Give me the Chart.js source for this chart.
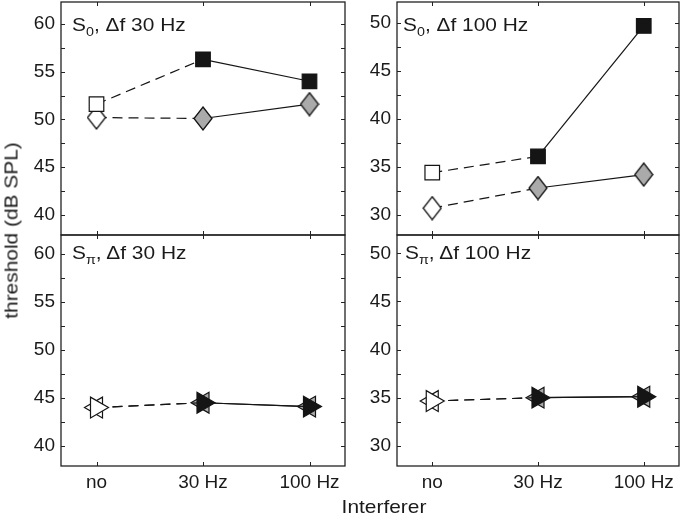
<!DOCTYPE html>
<html>
<head>
<meta charset="utf-8">
<script src="https://cdn.jsdelivr.net/npm/chart.js@4"></script>
<style>
  body { margin: 0; width: 685px; height: 519px; background: #fff; position: relative; overflow: hidden;
         font-family: "Liberation Sans", Arial, sans-serif; color: #1a1a1a; }
  canvas { position: absolute; }
  .lbl { position: absolute; font-size: 19px; line-height: 19px; white-space: nowrap;
         transform: scaleX(1.1); transform-origin: left center; }
  .lbl sub { font-size: 13px; vertical-align: -5px; line-height: 0; }
  #ytitle { left: -109px; top: 221px; width: 240px; text-align: center;
            transform: rotate(-90deg) scaleX(1.1); transform-origin: center; }
  #xtitle { left: 284px; top: 497px; width: 200px; text-align: center; transform-origin: center; }
</style>
</head>
<body>
<canvas id="tl" width="330" height="240" style="left:20px;top:0px;width:330px;height:240px"></canvas>
<canvas id="tr" width="325" height="240" style="left:360px;top:0px;width:325px;height:240px"></canvas>
<canvas id="bl" width="330" height="289" style="left:20px;top:230px;width:330px;height:289px"></canvas>
<canvas id="br" width="325" height="289" style="left:360px;top:230px;width:325px;height:289px"></canvas>

<div class="lbl" style="left:72px;top:15px">S<sub>0</sub>, Δf 30 Hz</div>
<div class="lbl" style="left:403px;top:15px">S<sub>0</sub>, Δf 100 Hz</div>
<div class="lbl" style="left:72px;top:243px">S<sub>π</sub>, Δf 30 Hz</div>
<div class="lbl" style="left:405px;top:243px">S<sub>π</sub>, Δf 100 Hz</div>
<div class="lbl" id="ytitle">threshold (dB SPL)</div>
<div class="lbl" id="xtitle">Interferer</div>

<script>
// 데이터
const interferers = ["no", "30 Hz", "100 Hz"];

// S0, Δf 30 Hz
const s0f30Square = [51.6, 56.3, 54.0];
const s0f30Diamond = [50.2, 50.1, 51.6];
// S0, Δf 100 Hz
const s0f100Square = [34.4, 36.1, 49.7];
const s0f100Diamond = [30.7, 32.8, 34.2];
// Spi, Δf 30 Hz
const spif30Right = [44.0, 44.5, 44.1];
const spif30Left = [44.0, 44.5, 44.1];
// Spi, Δf 100 Hz
const spif100Right = [34.65, 35.0, 35.1];
const spif100Left = [34.65, 35.0, 35.1];

const yTicks30 = [40, 45, 50, 55, 60];
const yTicks100 = [30, 35, 40, 45, 50];

const INK = "#151515";
const GRAY = "#aaaaaa";
const FONT = { family: "'Liberation Sans', Arial, sans-serif", size: 19 };

// 다이아몬드 마커 (세로로 긴 모양)
const diamond = (fill) => {
  const c = document.createElement("canvas");
  c.width = 20; c.height = 25;
  const g = c.getContext("2d");
  g.beginPath();
  g.moveTo(10, 1); g.lineTo(19, 12.5); g.lineTo(10, 24); g.lineTo(1, 12.5);
  g.closePath();
  g.fillStyle = fill; g.fill();
  g.lineWidth = 1.3; g.strokeStyle = INK; g.stroke();
  return c;
};
const diamondOpen = diamond("#fff");
const diamondGray = diamond(GRAY);

// 테두리 + 안쪽 눈금
const frame = {
  id: "frame",
  afterDraw(chart) {
    const { ctx, chartArea: a, scales } = chart;
    ctx.save();
    ctx.strokeStyle = "#222";
    ctx.lineWidth = 1.3;
    ctx.strokeRect(a.left, a.top, a.right - a.left, a.bottom - a.top);
    ctx.lineWidth = 1;
    const y = scales.y;
    for (let v = Math.ceil(y.min / 2.5) * 2.5; v <= y.max; v += 2.5) {
      const py = Math.round(y.getPixelForValue(v)) + 0.5;
      ctx.beginPath();
      ctx.moveTo(a.left, py); ctx.lineTo(a.left + 4, py);
      ctx.moveTo(a.right, py); ctx.lineTo(a.right - 4, py);
      ctx.stroke();
    }
    const x = scales.x;
    [0, 1, 2].forEach(v => {
      const px = Math.round(x.getPixelForValue(v)) + 0.5;
      ctx.beginPath();
      ctx.moveTo(px, a.top); ctx.lineTo(px, a.top + 4);
      ctx.moveTo(px, a.bottom); ctx.lineTo(px, a.bottom - 4);
      ctx.stroke();
    });
    ctx.restore();
  }
};

const toPoints = (vals) => vals.map((v, i) => ({ x: i, y: v }));

const lineSet = (vals, extra) => Object.assign({
  data: toPoints(vals),
  borderColor: INK,
  borderWidth: 1.2,
  tension: 0,
  clip: false,
  segment: { borderDash: c => c.p0DataIndex === 0 ? [10, 6] : undefined },
  pointBorderColor: INK,
  pointBorderWidth: 1.2
}, extra);

const squareSet = (vals) => lineSet(vals, {
  pointStyle: "rect",
  pointRadius: 10.3,
  pointBackgroundColor: ["#fff", INK, INK]
});
const diamondSet = (vals) => lineSet(vals, {
  pointStyle: [diamondOpen, diamondGray, diamondGray],
  pointRadius: 10
});
const rightSet = (vals) => lineSet(vals, {
  pointStyle: "triangle",
  pointRotation: 90,
  pointRadius: 12,
  pointBackgroundColor: ["#fff", INK, INK]
});
const leftSet = (vals) => lineSet(vals, {
  pointStyle: "triangle",
  pointRotation: -90,
  pointRadius: 12,
  pointBackgroundColor: ["#fff", GRAY, GRAY]
});

// 패널 하나 그리기
const makePanel = (id, datasets, p) => {
  new Chart(document.getElementById(id), {
    type: "line",
    data: { datasets },
    plugins: [frame],
    options: {
      responsive: false,
      animation: false,
      events: [],
      layout: { autoPadding: false, padding: { left: 0, right: p.right, top: p.top, bottom: p.bottom } },
      plugins: { legend: { display: false }, tooltip: { enabled: false } },
      scales: {
        x: {
          type: "linear",
          min: -1 / 3,
          max: 7 / 3,
          display: p.showX,
          afterBuildTicks: s => { s.ticks = [0, 1, 2].map(v => ({ value: v })); },
          afterFit: s => { s.height = p.xHeight; s.paddingLeft = 0; s.paddingRight = 0; },
          grid: { display: false, drawTicks: false },
          border: { display: false },
          ticks: {
            font: FONT, color: "#1a1a1a", padding: 5, maxRotation: 0, autoSkip: false,
            callback: v => interferers[v]
          }
        },
        y: {
          type: "linear",
          min: p.yMin,
          max: p.yMax,
          afterBuildTicks: s => { s.ticks = p.yTicks.map(v => ({ value: v })); },
          afterFit: s => { s.width = p.yWidth; s.paddingTop = 0; s.paddingBottom = 0; },
          grid: { display: false, drawTicks: false },
          border: { display: false },
          ticks: { font: FONT, color: "#1a1a1a", padding: 6 }
        }
      }
    }
  });
};

makePanel("tl", [squareSet(s0f30Square), diamondSet(s0f30Diamond)],
  { top: 2, bottom: 5, right: 5, yWidth: 41, showX: false, xHeight: 0, yMin: 37.9, yMax: 62.3, yTicks: yTicks30 });
makePanel("tr", [squareSet(s0f100Square), diamondSet(s0f100Diamond)],
  { top: 2, bottom: 5, right: 6, yWidth: 37, showX: false, xHeight: 0, yMin: 27.9, yMax: 52.2, yTicks: yTicks100 });
makePanel("bl", [rightSet(spif30Right), leftSet(spif30Left)],
  { top: 5, bottom: 0, right: 5, yWidth: 41, showX: true, xHeight: 53, yMin: 37.9, yMax: 62.0, yTicks: yTicks30 });
makePanel("br", [rightSet(spif100Right), leftSet(spif100Left)],
  { top: 5, bottom: 0, right: 6, yWidth: 37, showX: true, xHeight: 53, yMin: 27.9, yMax: 51.9, yTicks: yTicks100 });
</script>
</body>
</html>
